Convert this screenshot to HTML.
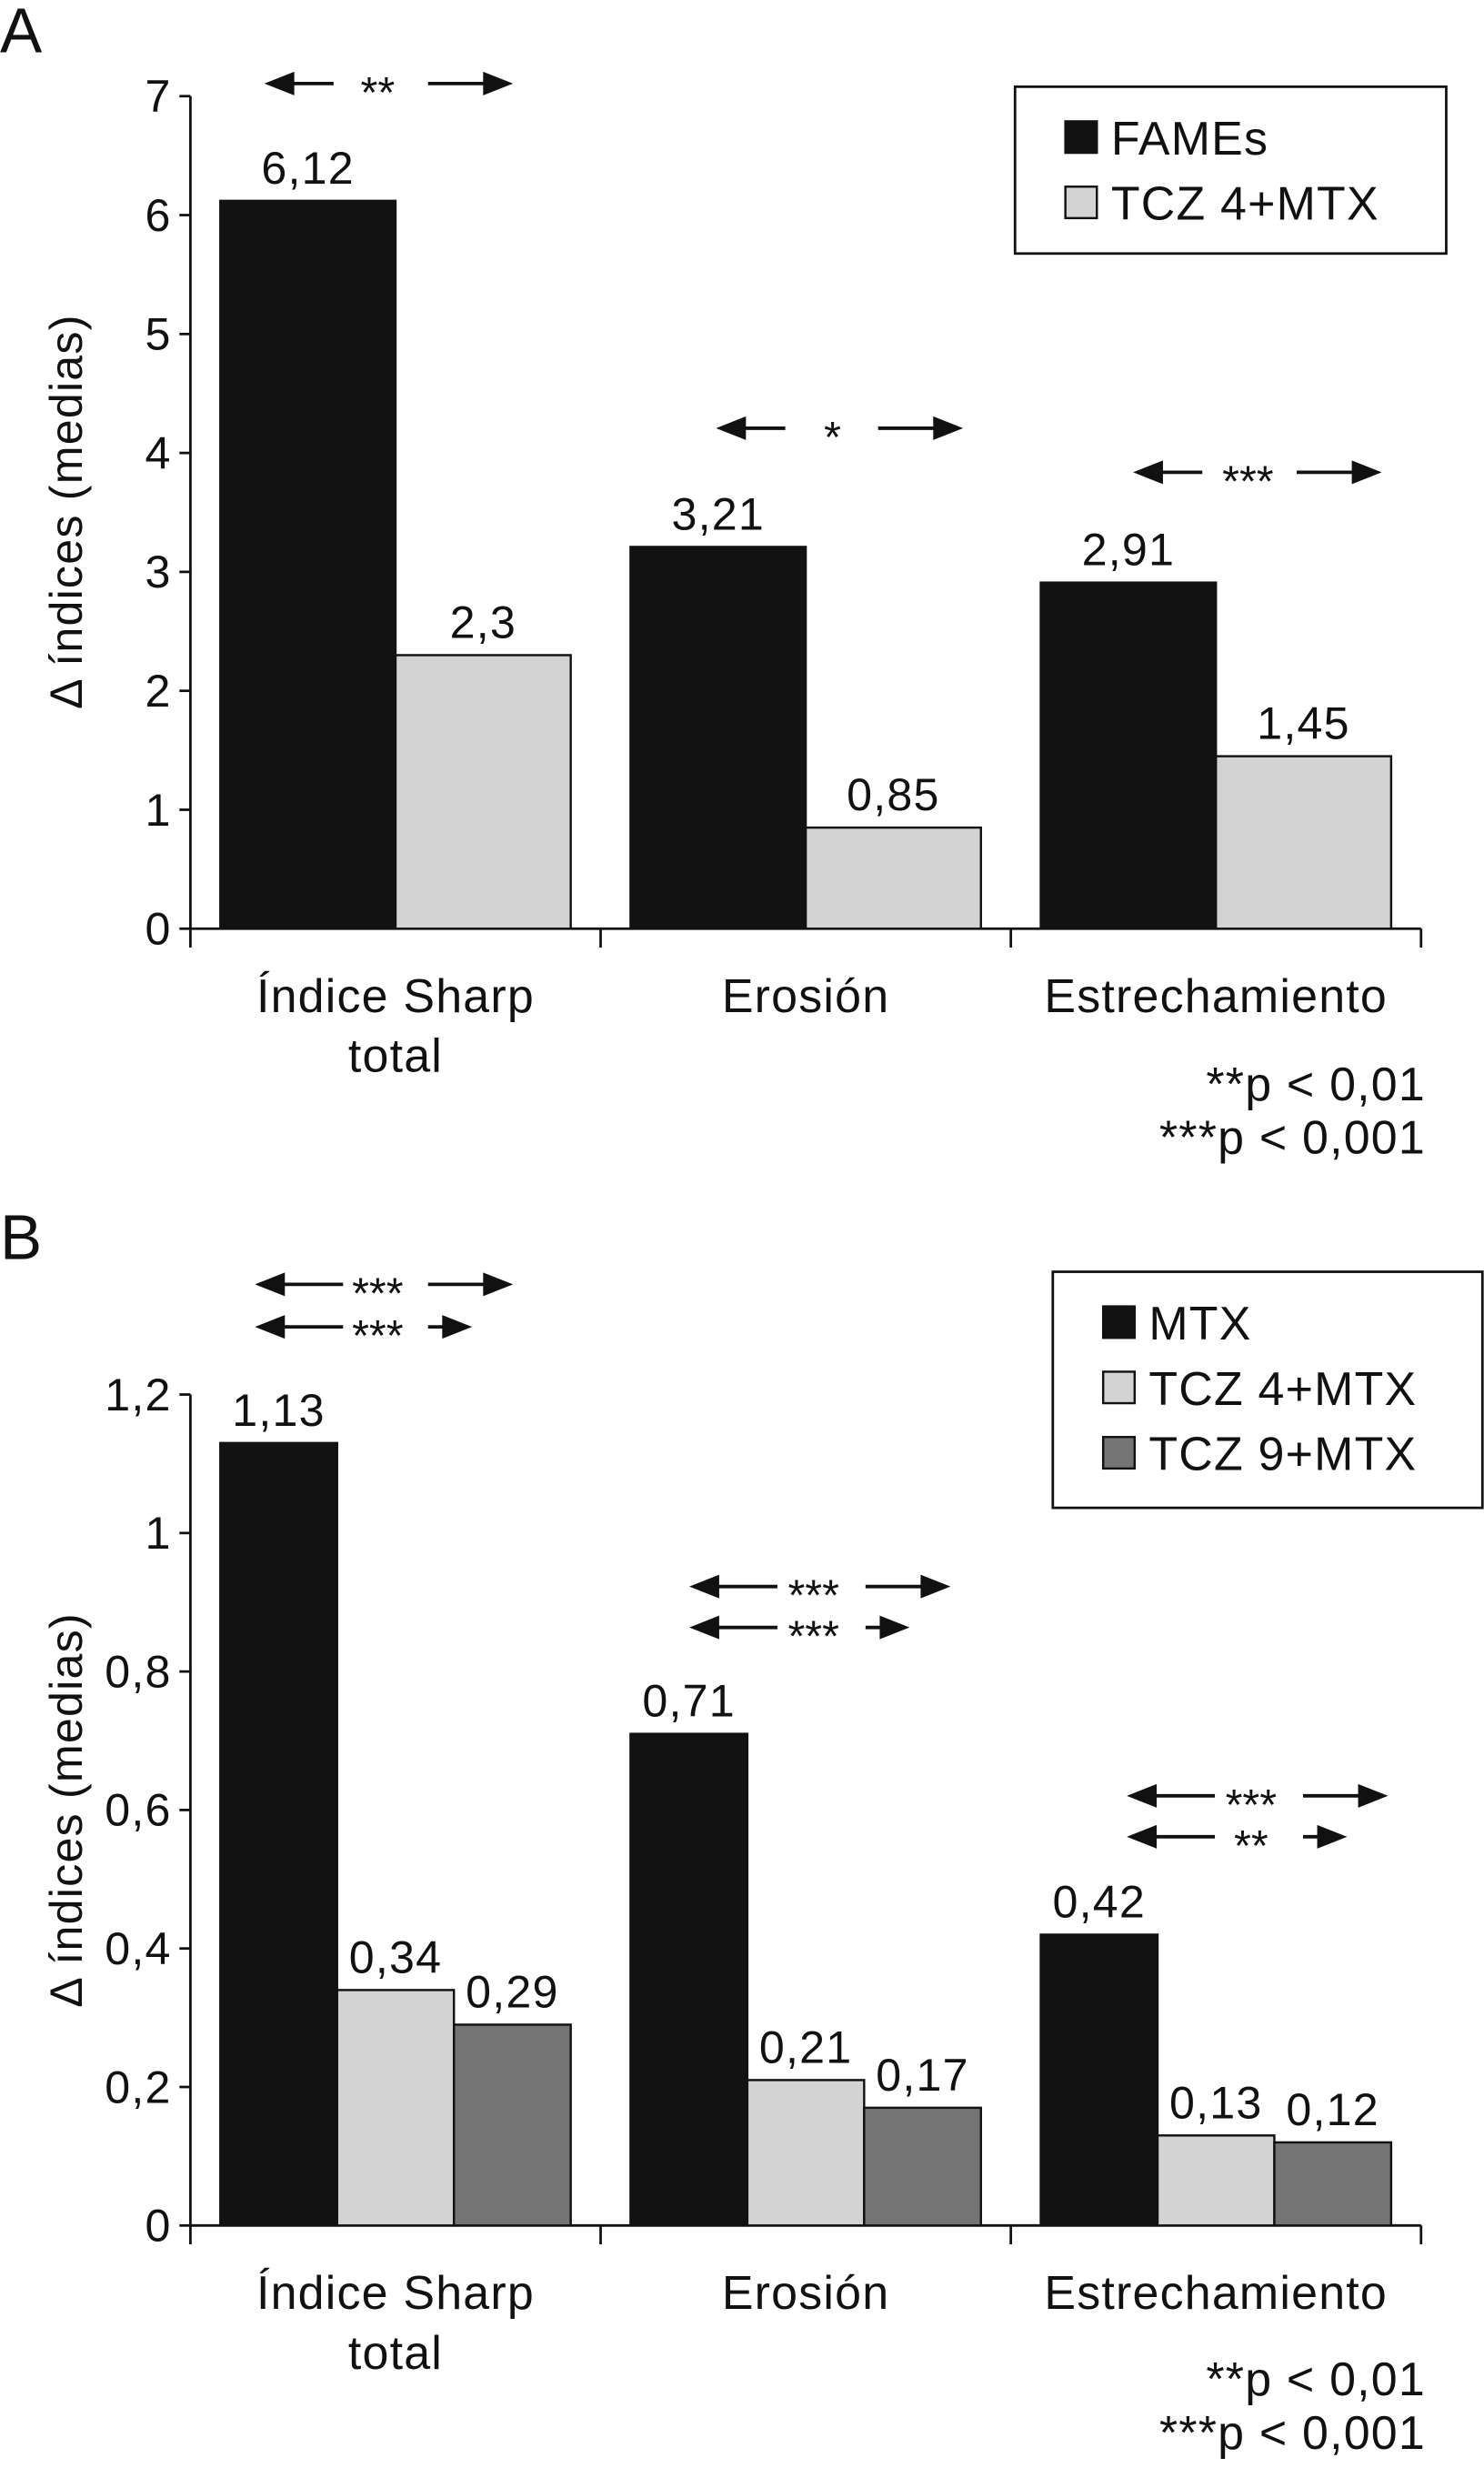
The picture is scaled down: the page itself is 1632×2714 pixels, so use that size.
<!DOCTYPE html>
<html><head><meta charset="utf-8"><style>
html,body{margin:0;padding:0;background:#fff;}
svg{display:block;font-family:"Liberation Sans",Arial,sans-serif;}
svg text{letter-spacing:0.7px;}
svg text.sig{letter-spacing:0;}
</style></head><body>
<svg id="root" width="1632" height="2714" viewBox="0 0 943 1568" xmlns="http://www.w3.org/2000/svg">
<rect width="943" height="1568" fill="#fff"/>
<g id="chartA"></g>
<g id="chartB"></g>
</svg>
<script>
const NS="http://www.w3.org/2000/svg";
const categories=["Índice Sharp|total","Erosión","Estrechamiento"];
const seriesA_names=["FAMEs","TCZ 4+MTX"];
const seriesA_fames=[6.12,3.21,2.91];
const seriesA_tcz4=[2.3,0.85,1.45];
const labelsA_fames=["6,12","3,21","2,91"];
const labelsA_tcz4=["2,3","0,85","1,45"];
const ticksA=[0,1,2,3,4,5,6,7];
const tickLabelsA=["0","1","2","3","4","5","6","7"];
const seriesB_names=["MTX","TCZ 4+MTX","TCZ 9+MTX"];
const seriesB_mtx=[1.13,0.71,0.42];
const seriesB_tcz4=[0.34,0.21,0.13];
const seriesB_tcz9=[0.29,0.17,0.12];
const labelsB_mtx=["1,13","0,71","0,42"];
const labelsB_tcz4=["0,34","0,21","0,13"];
const labelsB_tcz9=["0,29","0,17","0,12"];
const ticksB=[0,0.2,0.4,0.6,0.8,1,1.2];
const tickLabelsB=["0","0,2","0,4","0,6","0,8","1","1,2"];
const sigA=["**","*","***"];
const sigB1=["***","***","***"];
const sigB2=["***","***","**"];
const colors=["#121212","#d3d3d3","#747474"];
const FS=30;

function el(parent,tag,attrs,text){const e=document.createElementNS(NS,tag);for(const k in attrs)e.setAttribute(k,attrs[k]);if(text!==undefined)e.textContent=text;parent.appendChild(e);return e;}

function arrow(g,x1,x2,y,dir){
  const line=el(g,"line",{x1:dir<0?x1+18:x1,x2:dir<0?x2:x2-18,y1:y,y2:y,stroke:"#111","stroke-width":2.2});
  
  
  const tip=dir<0?x1:x2, base=dir<0?x1+19:x2-19;
  const p=el(g,"polygon",{points:`${tip},${y} ${base},${y-7.5} ${base},${y+7.5}`,fill:"#111"});
  
  
}

function drawChart(g,cfg){
  const x0=121,x1=903,yBase=cfg.yBase,yTop=cfg.yTop,max=cfg.max;
  const yS=v=>yBase-(v/max)*(yBase-yTop);
  const gw=(x1-x0)/3;
  const ax=el(g,"line",{x1:x0,x2:x0,y1:yTop,y2:yBase,stroke:"#111","stroke-width":1.6});
  
  
  const xa=el(g,"line",{x1:x0,x2:x1,y1:yBase,y2:yBase,stroke:"#111","stroke-width":1.6});
  
  
  cfg.ticks.forEach((t,i)=>{
    const y=yS(t);
    el(g,"line",{x1:x0-7,x2:x0,y1:y,y2:y,stroke:"#111","stroke-width":1.6});
    const tl=el(g,"text",{x:x0-12,y:y+10,"font-size":FS-1,"text-anchor":"end",fill:"#111"},cfg.tickLabels[i]);
    
    
  });
  for(let i=0;i<=3;i++){el(g,"line",{x1:x0+gw*i,x2:x0+gw*i,y1:yBase,y2:yBase+12,stroke:"#111","stroke-width":1.6});}
  const n=cfg.series.length, bw=(gw-38)/n;
  categories.forEach((c,ci)=>{
    const gx=x0+gw*ci+19;
    cfg.series.forEach((s,si)=>{
      const v=s[ci], y=yS(v), bx=gx+bw*si;
      const r=el(g,"rect",{x:bx,y:y,width:bw,height:yBase-y,fill:colors[si],stroke:"#111","stroke-width":1.4});
      
      
      const t=el(g,"text",{x:bx+bw/2,y:y-11,"font-size":FS-1,"text-anchor":"middle",fill:"#111"},cfg.labels[si][ci]);
      
      
    });
    const parts=c.split("|");
    parts.forEach((p,pi)=>{
      const t=el(g,"text",{x:x0+gw*ci+gw/2,y:yBase+53+pi*38,"font-size":FS,"text-anchor":"middle",fill:"#111"},p);
      
      
    });
  });
  const yl=el(g,"text",{x:0,y:0,"font-size":FS-1,"text-anchor":"middle",fill:"#111",transform:`translate(${cfg.ylx},${cfg.yly}) rotate(-90)`},"Δ índices (medias)");
  
  
  const L=cfg.legend;
  const lb=el(g,"rect",{x:L.x,y:L.y,width:L.w,height:L.h,fill:"#fff",stroke:"#111","stroke-width":1.6});
  
  
  cfg.names.forEach((nm,i)=>{
    const cy=L.y+32+i*41.5;
    el(g,"rect",{x:L.x+32,y:cy-10,width:20,height:20,fill:colors[i],stroke:"#111","stroke-width":1.4});
    const t=el(g,"text",{x:L.x+61,y:cy+11,"font-size":FS,fill:"#111"},nm);
    
    
  });
  const pa=el(g,"text",{x:906,y:cfg.pY,"font-size":FS,"text-anchor":"end",fill:"#111"},"**p < 0,01");
  
  
  const pb=el(g,"text",{x:906,y:cfg.pY+34,"font-size":FS,"text-anchor":"end",fill:"#111"},"***p < 0,001");
  
  
  const pl=el(g,"text",{x:cfg.panelX,y:cfg.panelY,"font-size":40,fill:"#111"},cfg.panel);
  
  
}

const gA=document.getElementById("chartA");
drawChart(gA,{yBase:590,yTop:61,max:7,ticks:ticksA,tickLabels:tickLabelsA,series:[seriesA_fames,seriesA_tcz4],labels:[labelsA_fames,labelsA_tcz4],names:seriesA_names,ylx:52,yly:325,legend:{x:645,y:55,w:274,h:106},pY:699,panel:"A",panelX:0,panelY:33});
[[168,240,326,53],[455,529,612,272],[720,793,878,300]].forEach((a,i)=>{
  arrow(gA,a[0],a[0]+44,a[3],-1);
  const s=el(gA,"text",{x:a[1],y:a[3]+15,"font-size":28,"text-anchor":"middle",fill:"#111","class":"sig"},sigA[i]);
  
  
  arrow(gA,a[2]-54,a[2],a[3],1);
});

const gB=document.getElementById("chartB");
drawChart(gB,{yBase:1414,yTop:886,max:1.2,ticks:ticksB,tickLabels:tickLabelsB,series:[seriesB_mtx,seriesB_tcz4,seriesB_tcz9],labels:[labelsB_mtx,labelsB_tcz4,labelsB_tcz9],names:seriesB_names,ylx:52,yly:1150,legend:{x:669,y:808,w:273,h:150},pY:1522,panel:"B",panelX:0,panelY:800});
[[162,240,326,300,816,843],[438,517,604,578,1008,1034],[716,795,882,856,1141,1167]].forEach((a,i)=>{
  arrow(gB,a[0],a[0]+56,a[4],-1);
  arrow(gB,a[0],a[0]+56,a[5],-1);
  const s1=el(gB,"text",{x:a[1],y:a[4]+15,"font-size":28,"text-anchor":"middle",fill:"#111","class":"sig"},sigB1[i]);
  
  
  const s2=el(gB,"text",{x:a[1],y:a[5]+15,"font-size":28,"text-anchor":"middle",fill:"#111","class":"sig"},sigB2[i]);
  
  
  arrow(gB,a[2]-54,a[2],a[4],1);
  arrow(gB,a[3]-28,a[3],a[5],1);
});
</script>
</body></html>
